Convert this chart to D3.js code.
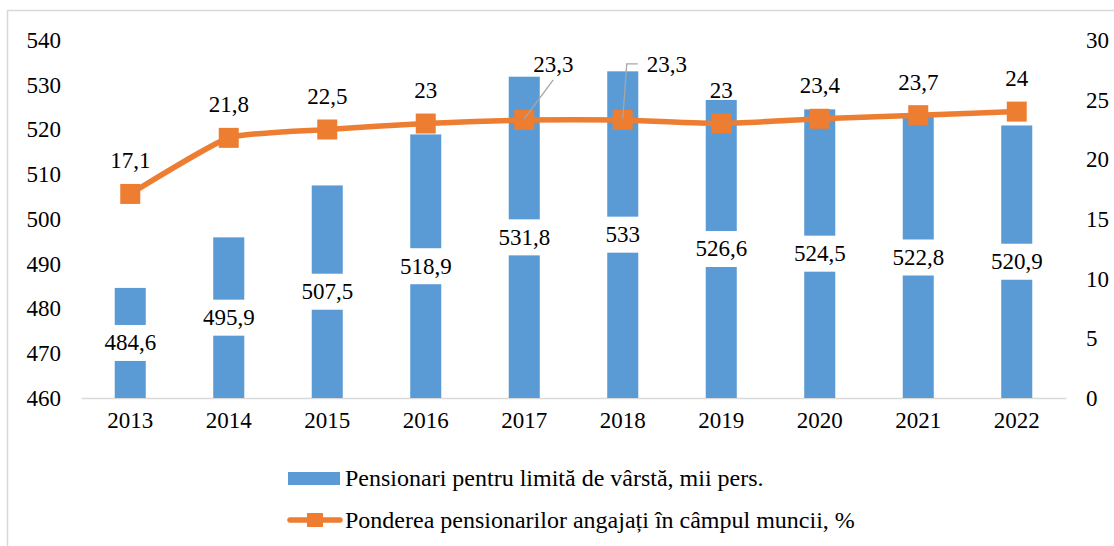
<!DOCTYPE html>
<html>
<head>
<meta charset="utf-8">
<script src="https://cdn.jsdelivr.net/npm/d3@7"></script>
<style>
  html, body { margin: 0; padding: 0; background: #fff; font-family: Liberation Serif; }
  svg { display: block; font-family: Liberation Serif; }
</style>
</head>
<body>
<svg id="chart" width="1114" height="546"></svg>
<script>
// Pensioners by age limit (thousand persons) and share of employed pensioners (%)
const years = ["2013", "2014", "2015", "2016", "2017", "2018", "2019", "2020", "2021", "2022"];
const pensioners = [484.6, 495.9, 507.5, 518.9, 531.8, 533, 526.6, 524.5, 522.8, 520.9];
const employedShare = [17.1, 21.8, 22.5, 23, 23.3, 23.3, 23, 23.4, 23.7, 24];
const leftTicks = [460, 470, 480, 490, 500, 510, 520, 530, 540];
const rightTicks = [0, 5, 10, 15, 20, 25, 30];
const barSeriesName = "Pensionari pentru limită de vârstă, mii pers.";
const lineSeriesName = "Ponderea pensionarilor angajați în câmpul muncii, %";

const BLUE = "#5b9bd5";
const ORANGE = "#ed7d31";
const FONT = 23;
const LEGEND_FONT = 24;
const SERIF = "Liberation Serif";

const svg = d3.select("#chart").style("font-family", SERIF);
const fmt = v => String(v).replace(".", ",");

// chart frame (top and left edges visible)
svg.append("path")
  .attr("d", "M7.5,546 V10.5 H1114")
  .attr("fill", "none")
  .attr("stroke", "#d9d9d9")
  .attr("stroke-width", 1.5);

const plot = { left: 81, right: 1066, top: 40, bottom: 398 };

const x = d3.scaleBand()
  .domain(years)
  .range([plot.left, plot.right])
  .paddingInner(0.685)
  .paddingOuter(0.3425);

const yL = d3.scaleLinear().domain([460, 540]).range([plot.bottom, plot.top]);
const yR = d3.scaleLinear().domain([0, 30]).range([plot.bottom, plot.top]);

const styleTicks = g => {
  g.attr("font-family", null);
  g.selectAll("text").attr("font-size", FONT).style("font-family", SERIF).attr("fill", "#000");
};

// left axis
svg.append("g")
  .attr("transform", `translate(${plot.left - 20},0)`)
  .call(d3.axisLeft(yL).tickValues(leftTicks).tickSize(0).tickPadding(0))
  .call(g => g.select(".domain").remove())
  .call(styleTicks);

// right axis
svg.append("g")
  .attr("transform", `translate(${plot.right + 20},0)`)
  .call(d3.axisRight(yR).tickValues(rightTicks).tickSize(0).tickPadding(0))
  .call(g => g.select(".domain").remove())
  .call(styleTicks);

// bottom axis (category labels)
svg.append("g")
  .attr("transform", `translate(0,${plot.bottom})`)
  .call(d3.axisBottom(x).tickSize(0).tickPadding(14))
  .call(g => g.select(".domain").attr("stroke", "#d9d9d9").attr("stroke-width", 1.5))
  .call(styleTicks);

// bars
const barData = years.map((y, i) => ({ year: y, value: pensioners[i] }));
svg.append("g").selectAll("rect")
  .data(barData)
  .join("rect")
  .attr("x", d => x(d.year))
  .attr("width", x.bandwidth())
  .attr("y", d => yL(d.value))
  .attr("height", d => plot.bottom - yL(d.value))
  .attr("fill", BLUE);

// bar value labels, centred in each bar on a white box
const barLabels = svg.append("g").selectAll("g")
  .data(barData)
  .join("g")
  .attr("transform", d => `translate(${x(d.year) + x.bandwidth() / 2},${(yL(d.value) + plot.bottom) / 2})`);
barLabels.append("text")
  .attr("text-anchor", "middle")
  .attr("dominant-baseline", "central")
  .style("font-family", SERIF)
  .attr("font-size", FONT)
  .text(d => fmt(d.value));
barLabels.each(function () {
  const g = d3.select(this);
  const w = g.select("text").node().getComputedTextLength();
  g.insert("rect", "text")
    .attr("x", -w / 2 - 4)
    .attr("y", -18)
    .attr("width", w + 8)
    .attr("height", 36)
    .attr("fill", "#fff");
});

// share line (smoothed)
const lineData = years.map((y, i) => ({ year: y, value: employedShare[i] }));
const cx = d => x(d.year) + x.bandwidth() / 2;
const line = d3.line()
  .x(cx)
  .y(d => yR(d.value))
  .curve(d3.curveCardinal.tension(0.5));
svg.append("path")
  .datum(lineData)
  .attr("d", line)
  .attr("fill", "none")
  .attr("stroke", ORANGE)
  .attr("stroke-width", 5.5)
  .attr("stroke-linejoin", "round")
  .attr("stroke-linecap", "round");

// square markers
const M = 20;
svg.append("g").selectAll("rect")
  .data(lineData)
  .join("rect")
  .attr("x", d => cx(d) - M / 2)
  .attr("y", d => yR(d.value) - M / 2)
  .attr("width", M)
  .attr("height", M)
  .attr("fill", ORANGE);

// line value labels; two of them are pulled aside with leader lines
const labelOffset = { "2017": [29, -55], "2018": [44, -55] };
const leaders = svg.append("g");
svg.append("g").selectAll("text")
  .data(lineData)
  .join("text")
  .attr("x", d => cx(d) + (labelOffset[d.year] ? labelOffset[d.year][0] : 0))
  .attr("y", d => yR(d.value) + (labelOffset[d.year] ? labelOffset[d.year][1] : -33))
  .attr("text-anchor", "middle")
  .attr("dominant-baseline", "central")
  .style("font-family", SERIF)
  .attr("font-size", FONT)
  .text(d => fmt(d.value));

const p17 = lineData[4], p18 = lineData[5];
leaders.append("path")
  .attr("d", `M${cx(p17)},${yR(p17.value) - 1} L${cx(p17) + 29},${yR(p17.value) - 40}`)
  .attr("fill", "none").attr("stroke", "#a6a6a6").attr("stroke-width", 1.3);
leaders.append("path")
  .attr("d", `M${cx(p18)},${yR(p18.value) - 1} L${cx(p18) + 4},${yR(p18.value) - 56} H${cx(p18) + 15}`)
  .attr("fill", "none").attr("stroke", "#a6a6a6").attr("stroke-width", 1.3);

// legend
const legend = svg.append("g");
legend.append("rect")
  .attr("x", 288).attr("y", 472).attr("width", 52).attr("height", 13)
  .attr("fill", BLUE);
legend.append("text")
  .attr("x", 345).attr("y", 478)
  .attr("dominant-baseline", "central")
  .style("font-family", SERIF)
  .attr("font-size", LEGEND_FONT)
  .text(barSeriesName);
legend.append("line")
  .attr("x1", 290).attr("x2", 340).attr("y1", 520).attr("y2", 520)
  .attr("stroke", ORANGE).attr("stroke-width", 5.5).attr("stroke-linecap", "round");
legend.append("rect")
  .attr("x", 307).attr("y", 513).attr("width", 16).attr("height", 14)
  .attr("fill", ORANGE);
legend.append("text")
  .attr("x", 345).attr("y", 520)
  .attr("dominant-baseline", "central")
  .style("font-family", SERIF)
  .attr("font-size", LEGEND_FONT)
  .text(lineSeriesName);
</script>
</body>
</html>
